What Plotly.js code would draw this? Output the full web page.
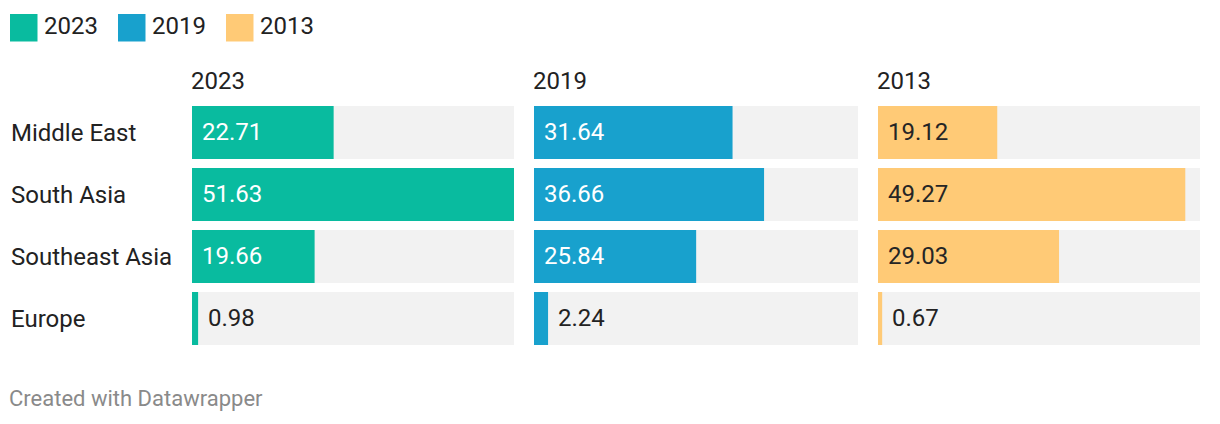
<!DOCTYPE html>
<html>
<head>
<meta charset="utf-8">
<script src="https://cdn.plot.ly/plotly-3.0.1.min.js"></script>
<style>
html,body{margin:0;padding:0;background:#fff;}
#chart{width:1220px;height:424px;}
</style>
</head>
<body>
<div id="chart"></div>
<script>
const categories = ['Middle East', 'South Asia', 'Southeast Asia', 'Europe'];
const years = ['2023', '2019', '2013'];
const v2023 = [22.71, 51.63, 19.66, 0.98];
const v2019 = [31.64, 36.66, 25.84, 2.24];
const v2013 = [19.12, 49.27, 29.03, 0.67];
const footer = 'Created with Datawrapper';

const series = [v2023, v2019, v2013];
const colors = ['#09bb9f', '#18a1cd', '#ffca76'];
const insideText = ['#ffffff', '#ffffff', '#252525'];
const W = 1220, H = 424;
const px = v => v / W;
const py = v => 1 - v / H;
const domains = [[px(192), px(514)], [px(534), px(858)], [px(878), px(1200)]];
const maxVal = Math.max(...v2023, ...v2019, ...v2013);
const FONT = 'Roboto, sans-serif';
const dark = '#222222';
const FS = 24;

const traces = [];
const annotations = [];
const shapes = [];
const layout = {
  width: W, height: H,
  margin: {l: 0, r: 0, t: 0, b: 0},
  paper_bgcolor: '#fff', plot_bgcolor: 'rgba(0,0,0,0)',
  barmode: 'overlay', bargap: 0.145,
  showlegend: false,
  font: {family: FONT, size: FS, color: dark},
  yaxis: {
    type: 'category', categoryorder: 'array', categoryarray: categories,
    range: [3.4274, -0.4274], domain: [py(345), py(106)],
    showticklabels: false, showgrid: false, zeroline: false, showline: false,
    anchor: 'x', fixedrange: true
  }
};

series.forEach((vals, i) => {
  const ax = i === 0 ? 'x' : 'x' + (i + 1);
  const axKey = i === 0 ? 'xaxis' : 'xaxis' + (i + 1);
  layout[axKey] = {
    domain: domains[i], range: [0, maxVal], anchor: 'y',
    showticklabels: false, showgrid: false, zeroline: false, showline: false, fixedrange: true
  };
  traces.push({
    type: 'bar', orientation: 'h', y: categories, x: categories.map(() => maxVal),
    xaxis: ax, yaxis: 'y', marker: {color: '#f2f2f2'}, hoverinfo: 'skip'
  });
  traces.push({
    type: 'bar', orientation: 'h', y: categories, x: vals,
    xaxis: ax, yaxis: 'y', marker: {color: colors[i]}, name: years[i]
  });
  // panel title
  annotations.push({
    text: years[i], xref: ax + ' domain', yref: 'paper', x: 0, y: py(81),
    xanchor: 'left', yanchor: 'middle', showarrow: false, xshift: -3,
    font: {family: FONT, size: FS, color: dark}
  });
  vals.forEach((v, j) => {
    const outside = v < 5;
    annotations.push({
      text: v.toFixed(2), xref: ax, yref: 'y', x: outside ? v : 0, y: categories[j],
      xanchor: 'left', yanchor: 'middle', xshift: outside ? 8 : 8, yshift: 1, showarrow: false,
      font: {family: FONT, size: FS, color: outside ? dark : insideText[i]}
    });
  });
  // legend
  const lx = [10, 118, 226][i];
  shapes.push({
    type: 'rect', xref: 'paper', yref: 'paper',
    x0: px(lx), x1: px(lx + 27.5), y0: py(41.5), y1: py(14),
    fillcolor: colors[i], line: {width: 0}
  });
  annotations.push({
    text: years[i], xref: 'paper', yref: 'paper', x: px(lx + 32), y: py(26),
    xanchor: 'left', yanchor: 'middle', showarrow: false,
    font: {family: FONT, size: FS, color: dark}
  });
});

categories.forEach(c => {
  annotations.push({
    text: c, xref: 'paper', yref: 'y', x: px(9), y: c,
    xanchor: 'left', yanchor: 'middle', showarrow: false, yshift: 0,
    font: {family: FONT, size: FS, color: dark}
  });
});

annotations.push({
  text: footer, xref: 'paper', yref: 'paper', x: px(7), y: py(398),
  xanchor: 'left', yanchor: 'middle', showarrow: false,
  font: {family: FONT, size: 22, color: '#8a8a8a'}
});

layout.annotations = annotations;
layout.shapes = shapes;

Plotly.newPlot('chart', traces, layout, {displayModeBar: false, staticPlot: true});
</script>
</body>
</html>
